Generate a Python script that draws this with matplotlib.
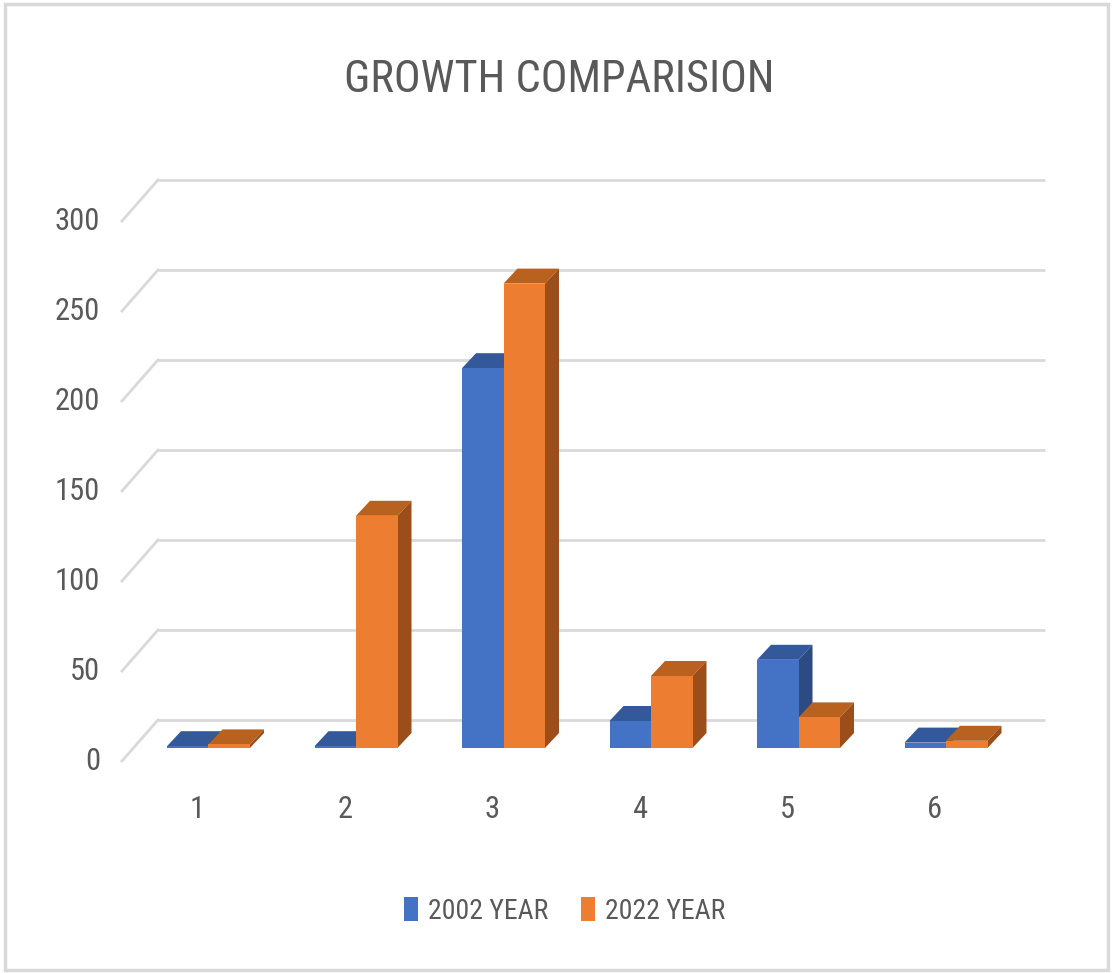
import matplotlib
matplotlib.use("Agg")
import matplotlib.pyplot as plt
from matplotlib import font_manager
from matplotlib.patches import Polygon, Rectangle

# data
categories = ["1", "2", "3", "4", "5", "6"]
series_names = ["2002 YEAR", "2022 YEAR"]
values_2002 = [1, 1, 211, 15, 49, 3]
values_2022 = [2, 129, 258, 40, 17, 4]
y_ticks = [0, 50, 100, 150, 200, 250, 300]

# colours (front, top, side)
blue = ("#4472C4", "#34599B", "#2B4B82")
orange = ("#ED7D31", "#B9611F", "#9C4E1A")
grid_col = "#D9D9D9"
text_col = "#595959"

# look for a narrow sans face (Excel used Calibri Light)
fam, stretch = "DejaVu Sans", "normal"
found = {(f.name, f.stretch) for f in font_manager.fontManager.ttflist}
for name, st in [("Liberation Sans Narrow", "condensed"),
                 ("Liberation Sans Narrow", "normal"),
                 ("Roboto Condensed", "normal"),
                 ("Roboto Condensed", "condensed"),
                 ("Roboto", "condensed"),
                 ("Open Sans Condensed", "condensed"),
                 ("Open Sans", "condensed"),
                 ("Noto Sans", "condensed"),
                 ("DejaVu Sans", "condensed"),
                 ("Noto Sans", "semi-condensed")]:
    if (name, st) in found:
        fam, stretch = name, st
        break
plt.rcParams["font.family"] = [fam, "DejaVu Sans"]
plt.rcParams["font.stretch"] = stretch

W, H = 1112, 973
fig = plt.figure(figsize=(W / 100, H / 100), dpi=100)
ax = fig.add_axes([0, 0, 1, 1])

# pixel -> data mapping on the bar front plane
px_per_cat = 147.5
px_per_val = 1.8
x0_px, y0_px = 208.5, 748
ax.set_xlim(1 + (0 - x0_px) / px_per_cat, 1 + (W - x0_px) / px_per_cat)
ax.set_ylim((y0_px - H) / px_per_val, y0_px / px_per_val)
ax.axis("off")

def dx(px):
    return px / px_per_cat

def dy(px):
    return px / px_per_val

# depth offsets relative to bar front plane
back = (dx(25), dy(28))
front = (dx(-11), dy(-13))
bar_d = (dx(14), dy(15))
floor_left, floor_right = 0.488, 6.502

# back wall gridlines with the left wall diagonal
for v in y_ticks:
    ax.plot([floor_left + back[0], floor_right + back[0]],
            [v + back[1], v + back[1]], color=grid_col, lw=2, zorder=1,
            solid_capstyle="butt")
    ax.plot([floor_left + back[0], floor_left + front[0]],
            [v + back[1], v + front[1]], color=grid_col, lw=2, zorder=1)
    ax.text(0.2644, v + front[1], str(v), ha="right", va="center",
            fontsize=22, color=text_col)

xs = list(range(1, len(categories) + 1))
w = 41.5 / px_per_cat

def bar3d(x_left, v, cols, z):
    x_right = x_left + w
    top = [(x_left, v), (x_right, v), (x_right + bar_d[0], v + bar_d[1]),
           (x_left + bar_d[0], v + bar_d[1])]
    side = [(x_right, 0), (x_right + bar_d[0], bar_d[1]),
            (x_right + bar_d[0], v + bar_d[1]), (x_right, v)]
    ax.add_patch(Polygon(top, closed=True, fc=cols[1], ec="none", zorder=z))
    ax.add_patch(Polygon(side, closed=True, fc=cols[2], ec="none", zorder=z))

handles = []
for i, x in enumerate(xs):
    z = 2 + i * 2
    bar3d(x - w, values_2002[i], blue, z)
    b1 = ax.bar(x - w / 2, values_2002[i], width=w, color=blue[0], zorder=z)
    bar3d(x, values_2022[i], orange, z + 1)
    b2 = ax.bar(x + w / 2, values_2022[i], width=w, color=orange[0], zorder=z + 1)
    if i == 0:
        handles = [b1, b2]

for x, lab in zip(xs, categories):
    ax.text(x + front[0], -34.4, lab, ha="center", va="center",
            fontsize=22, color=text_col)

fig.text(0.503, 1 - 80 / H, "GROWTH COMPARISION", ha="center", va="center",
         fontsize=32, color=text_col)

fig.legend(handles, series_names, loc="center", bbox_to_anchor=(0.5077, 1 - 911 / H),
           ncol=2, frameon=False, fontsize=20, handlelength=0.5, handleheight=0.95,
           handletextpad=0.35, columnspacing=1.2, labelcolor=text_col)

fig.patches.append(Rectangle((5 / W, 3 / H), 1 - 9 / W, 1 - 7 / H,
                             transform=fig.transFigure, fill=False,
                             ec=grid_col, lw=2.5))

fig.savefig("out.png", dpi=100, facecolor="white")
